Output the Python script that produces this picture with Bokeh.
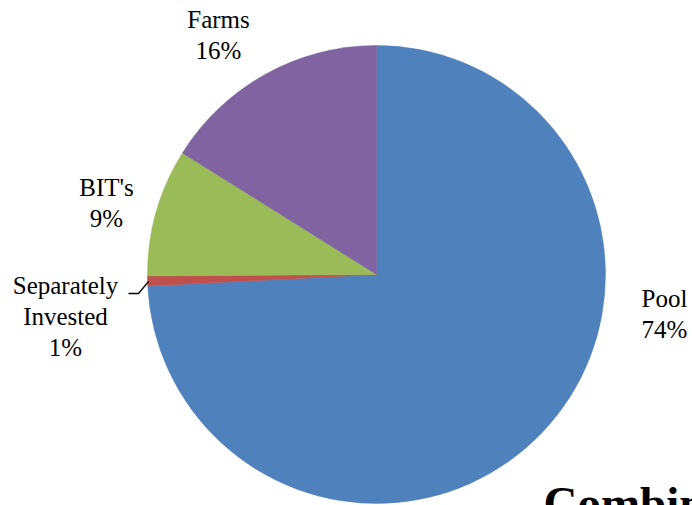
import math
from bokeh.plotting import figure
from bokeh.models import ColumnDataSource, Range1d, LabelSet
from bokeh.core.properties import value
from bokeh.embed import file_html
from bokeh.resources import INLINE

categories = ["Pool", "Separately Invested", "BIT's", "Farms"]
shares = [74.2, 0.7, 9.0, 16.1]
pct_labels = ["74%", "1%", "9%", "16%"]
colors = ["#4F81BD", "#C0504D", "#9BBB59", "#8064A2"]
footer_title = "Combined"

W, H = 692, 505
cx, cy, R = 376, H - 274, 229
SERIF = "Liberation Serif"
LABEL_FONT = "Times New Roman"
FS = 25          # label font size, px
DESC = 0.216     # Liberation Serif descent (em)

# Times / Liberation Serif advance widths (per 1000 em)
REG_W = {" ": 250, "'": 180, "%": 833, "B": 667, "F": 556, "I": 333, "P": 556,
         "S": 556, "T": 611, "a": 444, "d": 500, "e": 444, "l": 278, "m": 778,
         "n": 500, "o": 500, "p": 500, "r": 333, "s": 389, "t": 278, "v": 500,
         "y": 500}


def text_width(s, size):
    return sum(REG_W.get(ch, 500) for ch in s) * size / 1000.0


total = sum(shares)
starts, ends = [], []
a = math.pi / 2
for s in shares:
    starts.append(a)
    a = a - s / total * 2 * math.pi
    ends.append(a)

src = ColumnDataSource(dict(cat=categories, start=starts, end=ends, color=colors))

p = figure(width=W, height=H, output_backend="svg", toolbar_location=None,
           x_range=Range1d(0, W), y_range=Range1d(0, H), min_border=0)
p.axis.visible = False
p.grid.visible = False
p.outline_line_color = None

p.wedge(x=cx, y=cy, radius=R, start_angle="start", end_angle="end",
        direction="clock", fill_color="color", line_color="color",
        line_width=0.5, source=src)

# leader line for the small slice
p.line(x=[128, 138, 148], y=[H - 293, H - 293, H - 281], line_color="black", line_width=1.3)

TS = 47
p.text(x=[543], y=[H - (518 + DESC * TS)], text=[footer_title], text_font=value(SERIF),
       text_font_size=f"{TS}px", text_font_style="bold")

# label layout: (center x, first-line baseline) in pixels from top-left
label_pos = {"Pool": (664, 306), "Separately Invested": (65, 293),
             "BIT's": (106, 195), "Farms": (218, 27)}
line_gap = 30.8
tx, ty, tt = [], [], []
for c, pl in zip(categories, pct_labels):
    words = ["Separately", "Invested"] if c == "Separately Invested" else [c]
    lines = words + [pl]
    x0, y0 = label_pos[c]
    for i, ln in enumerate(lines):
        tx.append(x0 - text_width(ln, FS) / 2)
        ty.append(H - (y0 + i * line_gap + DESC * FS))
        tt.append(ln)

lab_src = ColumnDataSource(dict(x=tx, y=ty, t=tt))
labels = LabelSet(x="x", y="y", text="t", source=lab_src,
                  text_font=value(LABEL_FONT), text_font_size=f"{FS}px",
                  text_color="#000000")
p.add_layout(labels)

open("out.html", "w").write(file_html(p, INLINE))
